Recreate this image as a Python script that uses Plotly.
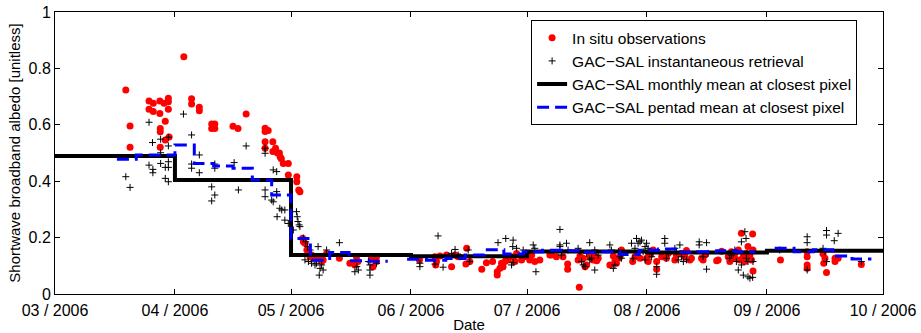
import pandas as pd
import plotly.graph_objects as go

# Data (x = days since 2006-03-01, y = albedo)
insitu_day = [
    18.3, 19.4, 19.4, 24.3, 25.4, 24.3, 25.4, 27.1, 27.1, 28.2, 28.5, 27.2, 27.2, 27.2,
    29.3, 29.3, 29.3, 29.5, 28.5, 33.3, 35.3, 35.3, 37.3, 37.3, 40.5, 41.3, 40.5, 41.3,
    46.0, 47.3, 49.4,
    54.3, 54.3, 55.1, 54.3, 54.3, 56.3, 56.3, 57.0, 57.5, 58.0, 58.2, 58.5, 59.0, 60.3,
    60.3, 62.5, 62.5, 63.0, 63.3,
    64.0, 64.2, 64.6, 65.1, 65.5, 65.9, 66.3, 66.7, 67.6, 68.5, 68.9, 69.3, 70.2, 73.5,
    76.2, 77.5, 77.9, 78.3, 81.8, 82.2, 83.1, 83.1,
    94.2, 98.2, 98.6, 98.4, 99.5, 101.2, 102.5, 103.4, 104.2, 106.4, 106.2, 107.2, 110.3,
    111.5, 113.1, 114.3, 114.3, 115.0, 115.4, 115.8, 116.7, 117.1, 116.3, 118.0, 119.3,
    118.9, 120.6, 121.9, 122.7, 123.2, 124.0, 125.3, 127.9,
    128.3, 129.6, 131.3, 132.5, 132.5, 135.5, 135.2, 135.7, 136.5, 137.4, 137.0, 138.2,
    139.1, 139.5, 140.0, 140.4, 143.4, 144.3, 144.7, 145.1, 145.6, 146.4, 146.0, 149.3,
    149.9, 150.3, 151.2, 152.9, 153.3, 153.7, 154.6, 155.5, 155.5, 156.8, 158.0, 158.5,
    160.2, 160.6, 161.9, 162.8, 163.2, 164.1, 164.5, 167.1, 167.5, 168.0, 171.0,
    171.4, 172.3, 174.0, 174.4, 174.8, 175.7, 175.7, 176.6, 177.0, 177.4, 177.9, 178.3,
    178.7, 179.1, 179.6, 180.0, 180.3, 180.4, 180.4,
    187.5, 194.4, 194.4, 194.4, 194.4, 198.5, 199.0, 198.7, 199.4, 201.6, 201.6, 202.4,
    208.4,
]
insitu_albedo = [
    0.723, 0.596, 0.520, 0.684, 0.676, 0.655, 0.647, 0.684, 0.640, 0.676, 0.613, 0.587,
    0.575, 0.520, 0.694, 0.682, 0.655, 0.557, 0.546, 0.841, 0.692, 0.674, 0.662, 0.650,
    0.603, 0.603, 0.587, 0.587, 0.595, 0.587, 0.638,
    0.588, 0.576, 0.580, 0.540, 0.517, 0.540, 0.505, 0.517, 0.500, 0.500, 0.486, 0.480,
    0.463, 0.463, 0.422, 0.416, 0.398, 0.369, 0.363,
    0.198, 0.185, 0.180, 0.156, 0.144, 0.132, 0.138, 0.127, 0.127, 0.132, 0.115, 0.121,
    0.144, 0.127,
    0.109, 0.103, 0.132, 0.115, 0.127, 0.097, 0.132, 0.115,
    0.121, 0.132, 0.115, 0.103, 0.135, 0.138, 0.097, 0.138, 0.132, 0.162, 0.106, 0.115,
    0.088, 0.111, 0.115, 0.079, 0.067, 0.091, 0.109, 0.097, 0.127, 0.121, 0.115, 0.132,
    0.144, 0.115, 0.121, 0.132, 0.121, 0.138, 0.115, 0.121, 0.138,
    0.138, 0.132, 0.132, 0.106, 0.088, 0.024, 0.121, 0.135, 0.127, 0.103, 0.097, 0.132,
    0.121, 0.135, 0.118, 0.127, 0.103, 0.135, 0.115, 0.109, 0.127, 0.156, 0.132, 0.115,
    0.132, 0.138, 0.127, 0.127, 0.115, 0.138, 0.156, 0.115, 0.088, 0.132, 0.127, 0.144,
    0.121, 0.138, 0.144, 0.132, 0.154, 0.121, 0.127, 0.127, 0.121, 0.138, 0.118,
    0.121, 0.152, 0.132, 0.115, 0.150, 0.144, 0.127, 0.156, 0.121, 0.215, 0.132, 0.115,
    0.144, 0.168, 0.138, 0.121, 0.213, 0.082, 0.156,
    0.121, 0.150, 0.132, 0.103, 0.091, 0.142, 0.127, 0.109, 0.076, 0.127, 0.115, 0.127,
    0.105,
]

gac_day = [
    18.3, 19.4, 24.3, 25.2, 27.3, 29.3, 27.3, 29.3, 29.3, 27.3, 28.5, 29.3, 24.3, 25.3,
    25.3, 28.5, 29.3, 33.2, 35.3, 35.3, 35.3, 37.3, 37.3, 41.3, 41.3, 40.5, 41.3, 40.5,
    46.3, 47.4, 49.4,
    54.3, 54.3, 56.4, 57.3, 54.3, 54.3, 56.0, 57.3, 57.3, 56.4, 58.1, 58.6, 59.4, 57.4,
    59.4, 60.3, 61.6, 62.4, 62.6, 62.8, 63.1, 63.3,
    64.2, 64.8, 65.3, 65.9, 64.6, 65.5, 66.3, 67.2, 67.6, 68.3, 68.5, 68.9, 69.3, 68.0,
    70.2, 73.5, 77.5, 78.4, 78.0, 81.4, 81.4, 81.0, 81.4, 83.1,
    94.3, 94.3, 99.0, 98.2, 100.3, 102.5, 103.4, 104.2, 104.7, 106.8, 107.2, 114.5, 116.5,
    118.4, 118.3, 119.3, 118.0, 118.4, 121.0, 121.9, 123.6, 124.0, 124.3, 130.5,
    130.5, 130.5, 132.2, 132.6, 130.9, 135.2, 135.7, 136.1, 136.5, 137.0, 137.4, 138.2,
    138.2, 138.7, 139.5, 139.5, 140.4, 143.4, 143.8, 144.3, 144.7, 145.6, 146.0, 146.4,
    149.0, 149.4, 149.9, 150.3, 150.7, 151.2, 151.6, 152.0, 152.5, 152.5, 152.9, 153.3,
    153.7, 154.2, 154.6, 155.5, 155.5, 157.6, 157.6, 158.0, 158.5, 160.2, 160.6, 161.1,
    161.5, 161.9, 162.4, 163.2, 166.5, 166.5, 168.4, 168.4, 167.5, 168.8,
    174.4, 174.8, 175.3, 175.7, 176.1, 176.6, 177.4, 177.4, 177.9, 178.3, 178.6, 179.1,
    179.1, 179.6, 180.3, 180.4, 178.7,
    187.3, 194.4, 194.4, 194.4, 199.4, 199.4, 198.5, 199.0, 201.4, 202.4, 199.4, 208.4,
]
gac_albedo = [
    0.416, 0.378, 0.609, 0.537, 0.549, 0.556, 0.501, 0.525, 0.469, 0.463, 0.449, 0.449,
    0.457, 0.442, 0.430, 0.410, 0.398, 0.638, 0.564, 0.461, 0.446, 0.430, 0.493, 0.446,
    0.461, 0.380, 0.351, 0.330, 0.466, 0.369, 0.525,
    0.517, 0.499, 0.440, 0.434, 0.369, 0.345, 0.333, 0.351, 0.363, 0.327, 0.304, 0.298,
    0.298, 0.274, 0.262, 0.250, 0.227, 0.292, 0.274, 0.257, 0.245, 0.239,
    0.198, 0.185, 0.168, 0.156, 0.121, 0.115, 0.109, 0.103, 0.109, 0.067, 0.091, 0.103,
    0.085, 0.168, 0.156, 0.182, 0.079, 0.085, 0.097, 0.085, 0.067, 0.115, 0.103, 0.109,
    0.109, 0.097, 0.206, 0.106, 0.095, 0.144, 0.158, 0.138, 0.132, 0.156, 0.115, 0.182,
    0.197, 0.191, 0.168, 0.162, 0.103, 0.111, 0.156, 0.144, 0.174, 0.162, 0.079, 0.168,
    0.229, 0.174, 0.180, 0.156, 0.138, 0.162, 0.150, 0.115, 0.103, 0.097, 0.144, 0.182,
    0.121, 0.127, 0.156, 0.085, 0.138, 0.174, 0.156, 0.091, 0.103, 0.150, 0.132, 0.127,
    0.180, 0.127, 0.162, 0.197, 0.180, 0.185, 0.191, 0.150, 0.168, 0.121, 0.180, 0.162,
    0.150, 0.132, 0.144, 0.070, 0.097, 0.197, 0.180, 0.127, 0.144, 0.162, 0.150, 0.121,
    0.174, 0.132, 0.115, 0.121, 0.185, 0.174, 0.182, 0.088, 0.132, 0.144,
    0.127, 0.138, 0.144, 0.156, 0.115, 0.085, 0.185, 0.103, 0.067, 0.221, 0.197, 0.115,
    0.061, 0.056, 0.059, 0.115, 0.127,
    0.156, 0.203, 0.182, 0.085, 0.225, 0.209, 0.162, 0.150, 0.189, 0.215, 0.115, 0.115,
]

month_start = ["2006-03-01", "2006-04-01", "2006-05-01", "2006-06-01",
               "2006-07-01", "2006-08-01", "2006-09-01"]
month_end = "2006-10-01"
monthly_albedo = [0.489, 0.404, 0.138, 0.134, 0.151, 0.147, 0.153]

pentad_start_day = [16, 21, 26, 31, 36, 41, 46, 51, 56, 61, 66, 71, 76, 81, 86,
                    91, 96, 101, 106, 111, 116, 121, 126, 131, 136, 141, 146, 151,
                    156, 161, 166, 171, 176, 181, 186, 191, 196, 201, 206]
pentad_albedo = [0.478, 0.493, 0.493, 0.528, 0.463, 0.454, 0.446, 0.404, 0.351,
                 0.197, 0.120, 0.147, 0.118, 0.116, None,
                 0.123, 0.120, 0.126, 0.138, 0.157, 0.142, 0.150, 0.155, 0.153,
                 0.148, 0.150, 0.140, 0.155, 0.160, 0.148, 0.150, 0.153, 0.150,
                 None, 0.162, 0.150, 0.157, 0.135, 0.124]
pentad_len = 5

origin = pd.Timestamp("2006-03-01")


def to_date(days):
    return [origin + pd.Timedelta(days=float(d)) for d in days]


# monthly step line
mx = list(pd.to_datetime(month_start)) + [pd.Timestamp(month_end)]
my = monthly_albedo + [monthly_albedo[-1]]

# pentad step line with gaps
px, py = [], []
for i, (d, v) in enumerate(zip(pentad_start_day, pentad_albedo)):
    if v is None:
        continue
    px.append(origin + pd.Timedelta(days=d))
    py.append(v)
    nxt = pentad_albedo[i + 1] if i + 1 < len(pentad_albedo) else None
    if nxt is None:
        px.append(origin + pd.Timedelta(days=d + pentad_len))
        py.append(v)
        px.append(origin + pd.Timedelta(days=d + pentad_len))
        py.append(None)

FONT = "Liberation Sans, Arial, Helvetica, sans-serif"

fig = go.Figure()
fig.add_trace(go.Scatter(
    x=to_date(insitu_day), y=insitu_albedo, mode="markers",
    name="In situ observations",
    marker=dict(color="#ff0000", size=7, line=dict(width=0)),
))
fig.add_trace(go.Scatter(
    x=to_date(gac_day), y=gac_albedo, mode="markers",
    name="GAC\u2212SAL instantaneous retrieval",
    marker=dict(symbol="cross-thin", size=5, color="black",
                line=dict(width=1, color="black")),
))
fig.add_trace(go.Scatter(
    x=mx, y=my, mode="lines", line_shape="hv",
    name="GAC\u2212SAL monthly mean at closest pixel",
    line=dict(color="black", width=4),
))
fig.add_trace(go.Scatter(
    x=px, y=py, mode="lines", line_shape="hv", connectgaps=False,
    name="GAC\u2212SAL pentad mean at closest pixel",
    line=dict(color="#0000ff", width=3, dash="12px,6px"),
))

axis_common = dict(
    showline=True, linecolor="#000000", linewidth=1, mirror="ticks",
    ticks="inside", ticklen=5, tickcolor="#000000", tickwidth=1,
    showgrid=False, zeroline=False, automargin=False,
    tickfont=dict(family=FONT, size=16, color="#000000"),
)

fig.update_layout(
    width=921, height=333,
    margin=dict(l=55, r=38, t=12, b=39),
    paper_bgcolor="white", plot_bgcolor="white",
    font=dict(family=FONT, size=16, color="#000000"),
    showlegend=True,
    legend=dict(
        x=0.575, y=0.971, xanchor="left", yanchor="top",
        bgcolor="white", bordercolor="#000000", borderwidth=1,
        font=dict(family=FONT, size=15.5, color="#000000"),
        tracegroupgap=0, itemwidth=30,
    ),
    xaxis=dict(
        type="date", range=["2006-03-01", "2006-10-01"],
        tick0="2006-03-01", dtick="M1", tickformat="%m / %Y",
        ticklabelstandoff=2,
        title=dict(text="Date", standoff=3,
                   font=dict(family=FONT, size=15, color="#000000")),
        **axis_common,
    ),
    yaxis=dict(
        range=[0, 1], dtick=0.2, tick0=0,
        title=dict(text="Shortwave broadband albedo [unitless]", standoff=4,
                   font=dict(family=FONT, size=15, color="#000000")),
        **axis_common,
    ),
)

fig.write_html("out.html")
